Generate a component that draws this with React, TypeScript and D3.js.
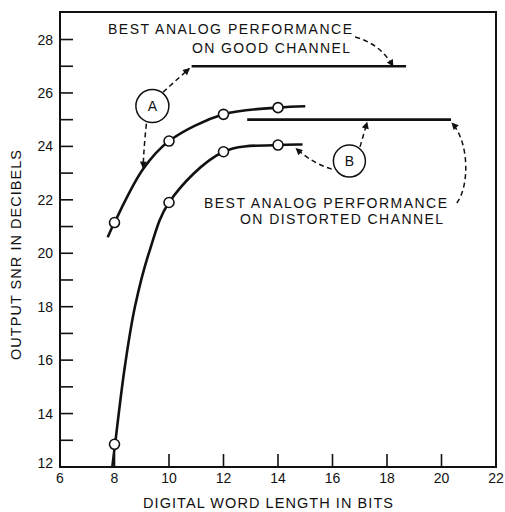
import React from "react";
import * as d3 from "d3";

// Axis ticks
const xTicks = [6, 8, 10, 12, 14, 16, 18, 20, 22];
const yMajorTicks = [12, 14, 16, 18, 20, 22, 24, 26, 28];
const yMinorTicks = [13, 15, 17, 19, 21, 23, 25, 27];

// Curve A (upper): measured word lengths and SNR values
const aBits = [8, 10, 12, 14];
const aSnr = [21.15, 24.2, 25.2, 25.45];
// Curve A traced path
const aTraceBits = [7.75, 8, 9.05, 10, 12, 14, 15];
const aTraceSnr = [20.6, 21.15, 23.15, 24.2, 25.2, 25.45, 25.5];

// Curve B (lower)
const bBits = [8, 10, 12, 14];
const bSnr = [12.85, 21.9, 23.8, 24.05];
const bTraceBits = [7.92, 8.02, 8.38, 8.75, 9.3, 10, 12, 14, 14.9];
const bTraceSnr = [12.0, 12.85, 15.76, 18.0, 20.13, 21.9, 23.8, 24.05, 24.07];

// Best analog performance levels
const analogGood = { snr: 27, from: 10.83, to: 18.7 };
const analogDistorted = { snr: 25, from: 12.87, to: 20.35 };

const W = 505;
const H = 512;
const M = { left: 60, right: 496, top: 12, bottom: 467 };

const x = d3.scaleLinear().domain([6, 22]).range([M.left, M.right]);
const y = d3.scaleLinear().domain([12, 29.03]).range([M.bottom, M.top]);

const FONT = "'Liberation Sans', Arial, Helvetica, sans-serif";
const INK = "#111";

const line = d3
  .line<[number, number]>()
  .x((d) => x(d[0]))
  .y((d) => y(d[1]))
  .curve(d3.curveCatmullRom.alpha(0.5));

const zip = (a: number[], b: number[]) => a.map((v, i) => [v, b[i]] as [number, number]);

// data-space point helper for annotation geometry
const P = (bx: number, snr: number) => `${x(bx).toFixed(1)},${y(snr).toFixed(1)}`;

export default function App() {
  const curveA = zip(aTraceBits, aTraceSnr);
  const curveB = zip(bTraceBits, bTraceSnr);
  const tick = 13;

  // annotation callouts, in data units
  const circA = { bx: 9.39, snr: 25.51, r: 16.5, label: "A" };
  const circB = { bx: 16.62, snr: 23.45, r: 16, label: "B" };

  const dashed = {
    fill: "none",
    stroke: INK,
    strokeWidth: 1.5,
    strokeDasharray: "5 3.5",
    markerEnd: "url(#arrowhead)",
  } as const;

  return (
    <svg
      width={W}
      height={H}
      style={{ position: "absolute", left: 0, top: 0, background: "#fff" }}
      fontFamily={FONT}
    >
      <defs>
        <marker
          id="arrowhead"
          viewBox="0 0 10 10"
          refX={9}
          refY={5}
          markerWidth={11}
          markerHeight={7}
          markerUnits="userSpaceOnUse"
          orient="auto"
        >
          <path d="M0,0 L10,5 L0,10 z" fill={INK} />
        </marker>
      </defs>

      {/* frame */}
      <rect
        x={M.left}
        y={M.top}
        width={M.right - M.left}
        height={M.bottom - M.top}
        fill="none"
        stroke={INK}
        strokeWidth={2}
      />

      {/* y ticks */}
      {yMajorTicks.concat(yMinorTicks).map((v) => (
        <line key={"yt" + v} x1={M.left} x2={M.left + tick} y1={y(v)} y2={y(v)} stroke={INK} strokeWidth={1.6} />
      ))}
      {yMajorTicks.map((v) => (
        <text
          key={"yl" + v}
          x={M.left - 7}
          y={Math.min(y(v) + 5, 468)}
          textAnchor="end"
          fontSize={14}
          fill={INK}
        >
          {v}
        </text>
      ))}

      {/* x ticks */}
      {xTicks.map((v) => (
        <line key={"xt" + v} x1={x(v)} x2={x(v)} y1={M.bottom} y2={M.bottom - tick} stroke={INK} strokeWidth={1.6} />
      ))}
      {xTicks.map((v) => (
        <text key={"xl" + v} x={x(v)} y={483} textAnchor="middle" fontSize={14} fill={INK}>
          {v}
        </text>
      ))}

      {/* axis titles */}
      <text x={143} y={508} fontSize={14.5} fill={INK} textLength={250} lengthAdjust="spacing">
        DIGITAL WORD LENGTH IN BITS
      </text>
      <text
        transform={`translate(21,255) rotate(-90)`}
        textAnchor="middle"
        fontSize={14.5}
        fill={INK}
        textLength={210}
        lengthAdjust="spacing"
      >
        OUTPUT SNR IN DECIBELS
      </text>

      {/* best analog performance lines */}
      {[analogGood, analogDistorted].map((l, i) => (
        <line
          key={"an" + i}
          x1={x(l.from)}
          x2={x(l.to)}
          y1={y(l.snr)}
          y2={y(l.snr)}
          stroke={INK}
          strokeWidth={2.6}
        />
      ))}

      {/* digital curves */}
      <path d={line(curveA) || ""} fill="none" stroke={INK} strokeWidth={2.6} />
      <path d={line(curveB) || ""} fill="none" stroke={INK} strokeWidth={2.6} />
      {zip(aBits, aSnr)
        .concat(zip(bBits, bSnr))
        .map((d, i) => (
          <circle key={"m" + i} cx={x(d[0])} cy={y(d[1])} r={5} fill="#fff" stroke={INK} strokeWidth={1.6} />
        ))}

      {/* callout circles */}
      {[circA, circB].map((c) => (
        <g key={c.label}>
          <circle cx={x(c.bx)} cy={y(c.snr)} r={c.r} fill="#fff" stroke={INK} strokeWidth={1.5} />
          <text x={x(c.bx)} y={y(c.snr) + 5} textAnchor="middle" fontSize={14} fill={INK}>
            {c.label}
          </text>
        </g>
      ))}

      {/* dashed callout arrows */}
      <path d={`M${P(9.78, 26.03)} L${P(10.75, 26.92)}`} {...dashed} />
      <path d={`M${P(9.17, 24.85)} Q${P(9.08, 24.0)} ${P(9.05, 23.2)}`} {...dashed} />
      <path d={`M${P(16.83, 28.09)} Q${P(17.74, 27.85)} ${P(18.22, 27.0)}`} {...dashed} />
      <path d={`M${P(17.01, 23.98)} L${P(17.27, 24.9)}`} {...dashed} />
      <path d={`M${P(15.97, 23.15)} Q${P(15.3, 23.35)} ${P(14.66, 23.92)}`} {...dashed} />
      <path
        d={`M${P(20.56, 21.88)} C${P(21.05, 22.55)} ${P(21.0, 24.2)} ${P(20.38, 24.87)}`}
        {...dashed}
      />

      {/* annotation text */}
      <g fontSize={14} fill={INK}>
        <text x={108} y={34} textLength={244} lengthAdjust="spacing">
          BEST ANALOG PERFORMANCE
        </text>
        <text x={192} y={53} textLength={158} lengthAdjust="spacing">
          ON GOOD CHANNEL
        </text>
        <text x={204} y={208} textLength={243} lengthAdjust="spacing">
          BEST ANALOG PERFORMANCE
        </text>
        <text x={240} y={224} textLength={203} lengthAdjust="spacing">
          ON DISTORTED CHANNEL
        </text>
      </g>
    </svg>
  );
}
